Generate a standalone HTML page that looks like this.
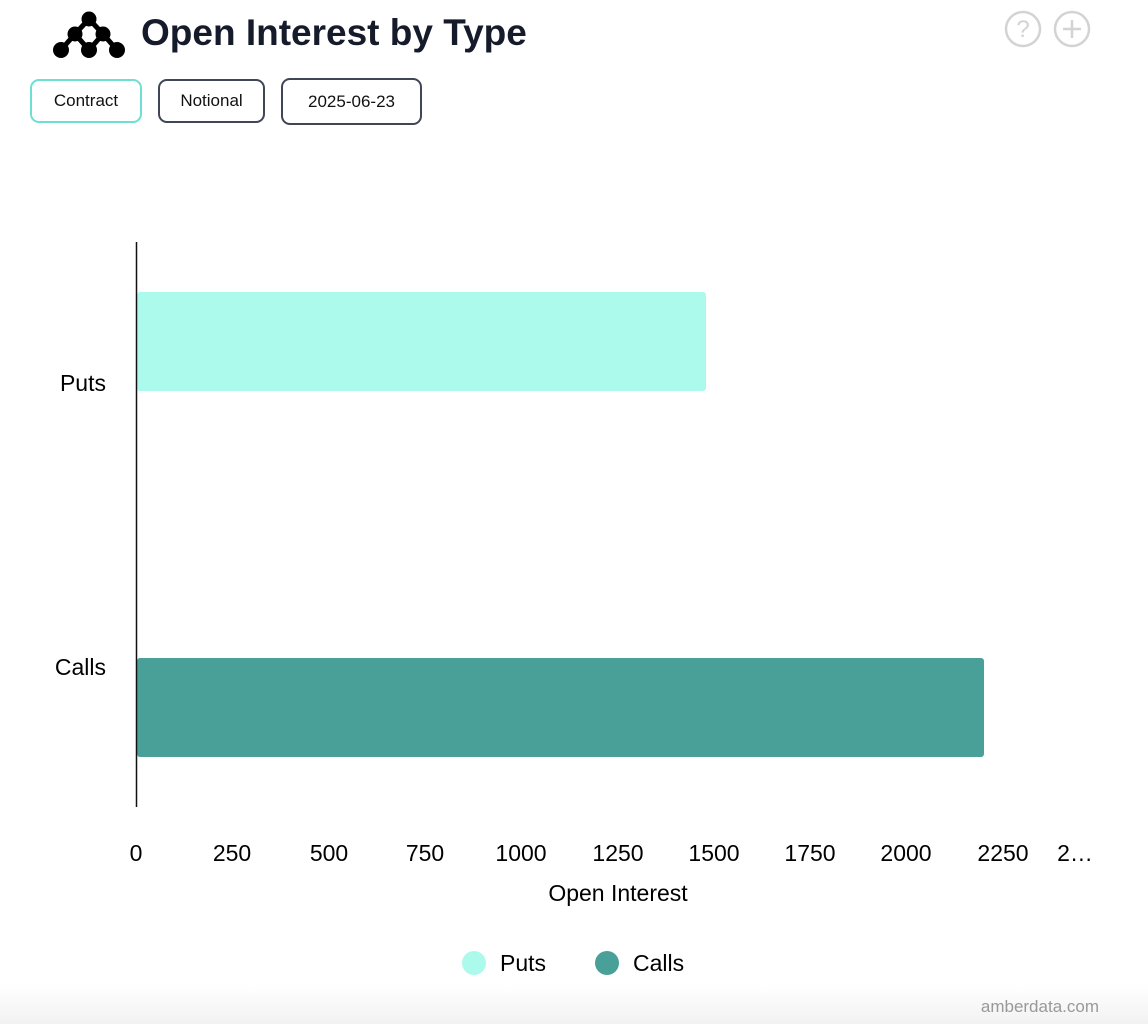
<!DOCTYPE html>
<html><head><style>
body{margin:0;background:#fff;width:1148px;height:1024px;overflow:hidden;font-family:"Liberation Sans",Arial,sans-serif;}
.btn{position:absolute;top:79px;height:44px;border:2px solid #3f4656;border-radius:9px;box-sizing:border-box;font-size:17px;display:flex;align-items:center;justify-content:center;color:#111;font-weight:500;}
</style></head><body>
<svg width="1148" height="1024" style="position:absolute;left:0;top:0">
<defs><linearGradient id="g" x1="0" y1="0" x2="0" y2="1"><stop offset="0" stop-color="#fff"/><stop offset="1" stop-color="#f2f2f2"/></linearGradient></defs>
<rect x="0" y="985" width="1148" height="39" fill="url(#g)"/>
<g fill="#000">
<circle cx="89" cy="19" r="7.5"/><circle cx="75" cy="34" r="7.5"/><circle cx="103" cy="34" r="7.5"/>
<circle cx="61" cy="50" r="8"/><circle cx="89" cy="50" r="8"/><circle cx="117" cy="50" r="8"/>
<path d="M89 19 L75 34 M89 19 L103 34 M75 34 L61 50 M75 34 L89 50 M103 34 L89 50 M103 34 L117 50" fill="none" stroke="#000" stroke-width="5"/>
</g>
<text x="141" y="45" font-size="37" font-weight="bold" fill="#161b2b">Open Interest by Type</text>
<g fill="none" stroke="#d3d3d3" stroke-width="2.5"><circle cx="1023" cy="29" r="17"/><circle cx="1072" cy="29" r="17"/>
<path d="M1072 20v18M1063 29h18"/></g>
<text x="1023" y="37" font-size="24" fill="#d3d3d3" text-anchor="middle">?</text>
<rect x="137" y="292" width="569" height="99" rx="3" fill="#abfaeb"/>
<rect x="137" y="658" width="847" height="99" rx="3" fill="#49a098"/>
<line x1="136.5" y1="242" x2="136.5" y2="807" stroke="#111" stroke-width="1.5"/>
<g font-size="23" fill="#000" text-anchor="end"><text x="106" y="391">Puts</text><text x="106" y="675">Calls</text></g>
<g font-size="23" fill="#000" text-anchor="middle">
<text x="136" y="861">0</text><text x="232" y="861">250</text><text x="329" y="861">500</text><text x="425" y="861">750</text><text x="521" y="861">1000</text><text x="618" y="861">1250</text><text x="714" y="861">1500</text><text x="810" y="861">1750</text><text x="906" y="861">2000</text><text x="1003" y="861">2250</text><text x="1075" y="861">2…</text>
<text x="618" y="901">Open Interest</text></g>
<circle cx="474" cy="963" r="12" fill="#abfaeb"/><text x="500" y="971" font-size="23">Puts</text>
<circle cx="607" cy="963" r="12" fill="#49a098"/><text x="633" y="971" font-size="23">Calls</text>
<text x="1099" y="1012" font-size="17" fill="#999" text-anchor="end">amberdata.com</text>
</svg>
<div class="btn" style="left:30px;width:112px;border-color:#6ee0d3">Contract</div>
<div class="btn" style="left:158px;width:107px">Notional</div>
<div class="btn" style="left:281px;width:141px;top:78px;height:47px">2025-06-23</div>
</body></html>
